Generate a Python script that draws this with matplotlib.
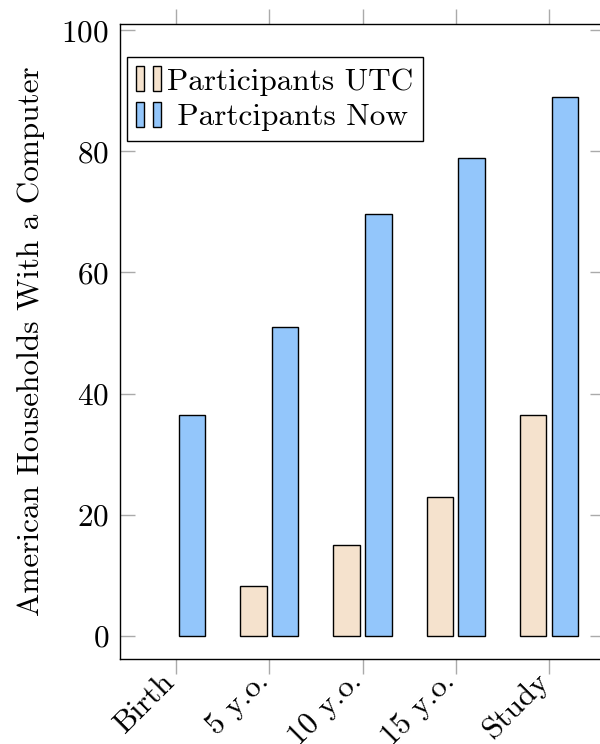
import matplotlib.pyplot as plt
import matplotlib.transforms as mtransforms
from matplotlib.patches import Rectangle
from matplotlib.legend_handler import HandlerTuple

categories = ['Birth', '5 y.o.', '10 y.o.', '15 y.o.', 'Study']
utc = [0, 8.2, 15, 22.9, 36.5]
now = [36.5, 51, 69.7, 78.9, 88.9]

plt.rcParams['font.family'] = 'cmr10'
plt.rcParams['axes.formatter.use_mathtext'] = True
plt.rcParams['font.size'] = 22.5

fig = plt.figure(figsize=(6, 7.44), dpi=100)
ax = fig.add_axes([120 / 600, 1 - 659 / 744, (605 - 120) / 600, (659 - 24) / 744])

c_utc = '#f5e2cd'
c_now = '#93c6fb'
x = list(range(len(categories)))
w = 0.285
off = 0.171
# zero-height bars are not drawn in the original
ax.bar([i - off for i in x], utc, w, color=c_utc, edgecolor='black',
       linewidth=[1 if v > 0 else 0 for v in utc])
ax.bar([i + off for i in x], now, w, color=c_now, edgecolor='black', linewidth=1)

ax.set_xlim(-0.6, 4.6)
ax.set_ylim(-3.8, 101)
ax.set_yticks([0, 20, 40, 60, 80, 100])
ax.set_xticks(x)
ax.set_xticklabels(categories, rotation=45, ha='right', va='center', rotation_mode='anchor')
ax.tick_params(axis='x', direction='out', top=True, length=11, color='#aaaaaa', width=1, pad=2)
ax.tick_params(axis='y', direction='in', right=True, length=11, color='#aaaaaa', width=1, pad=8)
shift = mtransforms.ScaledTranslation(-5 / 100, 0, fig.dpi_scale_trans)
for lab in ax.get_xticklabels():
    lab.set_transform(lab.get_transform() + shift)
for s in ax.spines.values():
    s.set_linewidth(1)
ax.set_ylabel('American Households With a Computer', labelpad=12)

h1 = (Rectangle((0, 0), 1, 1, facecolor=c_utc, edgecolor='black'),
      Rectangle((0, 0), 1, 1, facecolor=c_utc, edgecolor='black'))
h2 = (Rectangle((0, 0), 1, 1, facecolor=c_now, edgecolor='black'),
      Rectangle((0, 0), 1, 1, facecolor=c_now, edgecolor='black'))
leg = ax.legend([h1, h2], ['Participants UTC', ' Partcipants Now'],
                handler_map={tuple: HandlerTuple(ndivide=None, pad=0.3)},
                loc='upper left', bbox_to_anchor=(0.014, 0.948), fancybox=False,
                edgecolor='black', framealpha=1, handlelength=0.8, handleheight=0.85,
                handletextpad=0.2, borderpad=0.3, labelspacing=0.2, borderaxespad=0)
leg.get_frame().set_linewidth(1)

fig.savefig('out.png', dpi=100)
